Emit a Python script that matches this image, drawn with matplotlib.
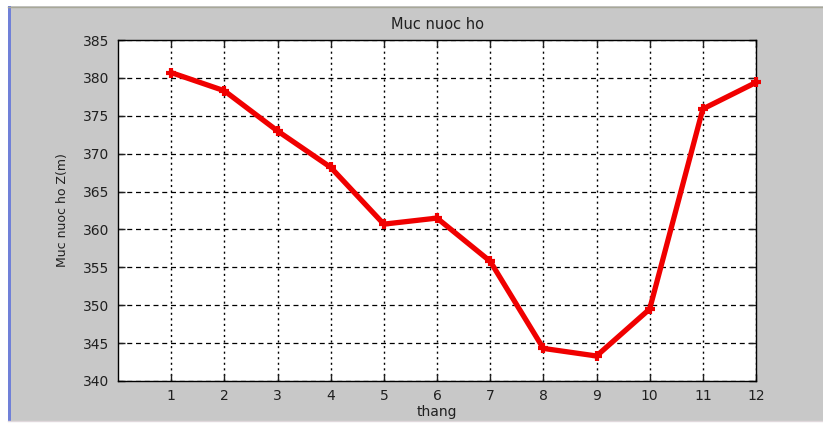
import matplotlib
matplotlib.use("Agg")
import matplotlib.pyplot as plt
from matplotlib.patches import Rectangle

# monthly reservoir level (m)
thang = [1, 2, 3, 4, 5, 6, 7, 8, 9, 10, 11, 12]
muc_nuoc = [380.7, 378.3, 373.0, 368.2, 360.7, 361.5, 355.8, 344.3, 343.3, 349.5, 375.9, 379.4]
yticks = [340, 345, 350, 355, 360, 365, 370, 375, 380, 385]

plt.rcParams["font.family"] = ["DejaVu Sans"]
W, H = 823, 425
fig = plt.figure(figsize=(W / 100, H / 100), dpi=100, facecolor="white")

# window frame behind the axes
bg = fig.add_axes([0, 0, 1, 1], zorder=-1)
bg.set_xlim(0, W); bg.set_ylim(H, 0); bg.axis("off")
bg.add_patch(Rectangle((8, 6), W - 8, 415, color="#c8c8c8", lw=0))
bg.add_patch(Rectangle((8, 6), 3, 415, color="#7080d8", lw=0))
bg.plot([8, W], [6.5, 6.5], color="#a8a898", lw=1)
bg.plot([8, W], [420.5, 420.5], color="#e0d8dc", lw=1)

ax = fig.add_axes([118 / W, 1 - 381 / H, (756 - 118) / W, (381 - 40) / H])
ax.set_facecolor("white")
ax.plot(thang, muc_nuoc, color="#f00000", lw=3.8, marker="+", ms=7, mew=3,
        solid_joinstyle="round", clip_on=False, zorder=3)

ax.set_xlim(0, 12)
ax.set_ylim(340, 385)
ax.set_xticks(thang)
ax.set_yticks(yticks)
ax.tick_params(direction="in", length=5, width=1, top=True, right=True,
               labelsize=10, colors="#202020", pad=6)
for s in ax.spines.values():
    s.set_linewidth(1)
ax.grid(axis="x", color="black", ls=(0, (1.5, 2.5)), lw=1)
ax.grid(axis="y", color="black", ls=(0, (4, 3)), lw=0.9)

ax.set_title("Muc nuoc ho", fontsize=10.5, pad=8, color="#202020")
ax.set_xlabel("thang", fontsize=10, labelpad=1, color="#202020")
ax.set_ylabel("Muc nuoc ho Z(m)", fontsize=9, labelpad=10, color="#202020")

fig.savefig("out.png", dpi=100, facecolor="white")
